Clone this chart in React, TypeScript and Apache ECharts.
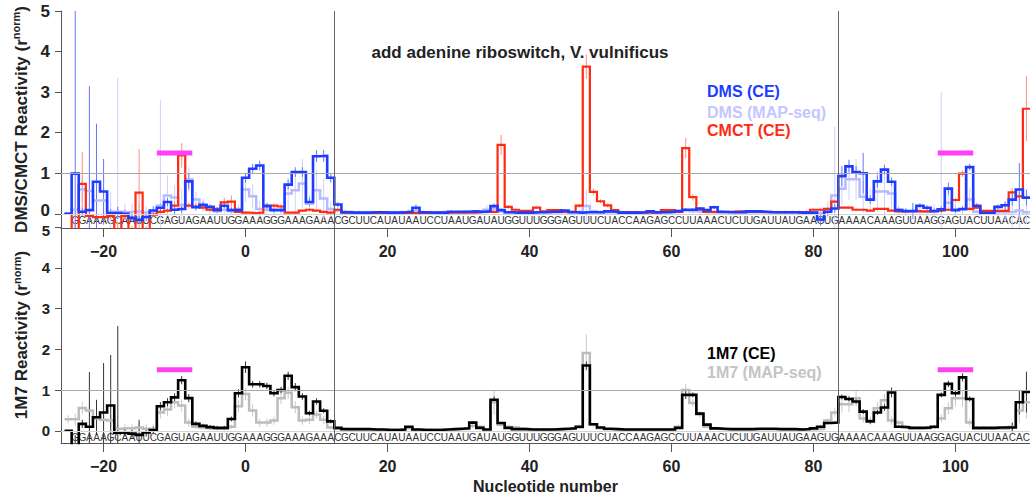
import React, { useEffect, useRef } from 'react';
import * as echarts from 'echarts';

// positions run from START to 110 (one value per nucleotide)
const START = -25;

// ---------------- DMS (CE) ----------------
const dmsCE = [
  0, 0.99, 0.05, 0.09, 0.79, 0.55, 0.02, 0.02, 0.0, -0.1,
  -0.15, -0.08, 0.08, 0.15, 0.29, 0.1, 0.12, 0.8, 0.16, 0.22,
  0.17, 0.09, 0.2, 0.09, 0.09, 0.89, 1.11, 1.19, 0.19, 0.09,
  0.09, 0.72, 1.03, 1.03, 0.29, 1.42, 1.43, 0.89, 0.23, 0.04,
  0.03, 0.03, 0.03, 0.04, 0.04, 0.03, 0.03, 0.04, 0.05, 0.15,
  0.04, 0.03, 0.03, 0.03, 0.05, 0.05, 0.05, 0.06, 0.05, 0.06,
  0.19, 0.09, 0.04, 0.03, 0.03, 0.03, 0.04, 0.04, 0.05, 0.05,
  0.08, 0.04, 0.03, 0.04, 0.04, 0.04, 0.06, 0.05, 0.03, 0.03,
  0.03, 0.04, 0.06, 0.04, 0.04, 0.05, 0.07, 0.1, 0.1, 0.13,
  0.09, 0.16, 0.05, 0.04, 0.04, 0.04, 0.06, 0.06, 0.05, 0.04,
  0.04, 0.04, 0.04, 0.03, 0.03, 0.03, -0.14, 0.05, 0.13, 0.93,
  1.17, 1.03, 1.0, 0.35, 0.8, 1.09, 0.79, 0.09, 0.07, 0.07,
  0.2, 0.15, 0.07, 0.11, 0.62, 0.09, 0.12, 1.15, 0.2, 0.02,
  0.02, 0.17, 0.21, 0.35, 0.6, 0.4,
];
const dmsCEErr = [
  0, 4.1, 0.1, 3.06, 1.43, 0.8, 0.1, 0.15, 0.1, 0.1,
  0.1, 0.1, 0.1, 0.1, 0.1, 0.1, 0.1, 0.2, 0.08, 0.08,
  0.06, 0.06, 0.06, 0.06, 0.06, 0.12, 0.12, 0.12, 0.08, 0.06,
  0.06, 0.12, 0.12, 0.12, 0.1, 0.15, 0.15, 0.12, 0.06, 0.03,
  0.03, 0.03, 0.03, 0.03, 0.03, 0.03, 0.03, 0.03, 0.03, 0.08,
  0.03, 0.03, 0.03, 0.03, 0.03, 0.03, 0.03, 0.03, 0.03, 0.03,
  0.06, 0.04, 0.03, 0.03, 0.03, 0.03, 0.03, 0.03, 0.03, 0.03,
  0.03, 0.03, 0.03, 0.03, 0.03, 0.03, 0.03, 0.03, 0.03, 0.03,
  0.03, 0.03, 0.03, 0.03, 0.03, 0.03, 0.03, 0.04, 0.04, 0.04,
  0.03, 0.04, 0.03, 0.03, 0.03, 0.03, 0.03, 0.03, 0.03, 0.03,
  0.03, 0.03, 0.03, 0.03, 0.03, 0.03, 0.15, 0.1, 0.1, 0.25,
  0.15, 0.15, 0.5, 0.1, 0.15, 0.12, 0.1, 0.06, 0.06, 0.2,
  0.06, 0.06, 0.06, 0.08, 0.15, 0.06, 0.06, 0.08, 0.06, 0.04,
  0.04, 0.06, 0.1, 0.15, 0.65, 0.2,
];

// ---------------- DMS (MAP-seq) ----------------
const dmsMAP = [
  0.0, 0.1, 0.6, 0.56, 0.33, 0.33, 0.05, 0.05, 0.04, 0.05,
  0.06, 0.03, 0.05, 0.2, 0.45, 0.4, 0.22, 0.85, 0.35, 0.2,
  0.1, 0.06, 0.1, 0.06, 0.12, 0.6, 0.43, 0.12, 0.1, 0.1,
  0.1, 0.5, 0.58, 0.75, 0.25, 0.58, 0.38, 0.12, 0.08, 0.05,
  0.04, 0.04, 0.04, 0.04, 0.04, 0.04, 0.04, 0.04, 0.05, 0.07,
  0.04, 0.04, 0.04, 0.04, 0.04, 0.04, 0.05, 0.05, 0.05, 0.1,
  0.12, 0.06, 0.04, 0.04, 0.04, 0.04, 0.04, 0.04, 0.04, 0.04,
  0.05, 0.04, 0.05, 0.19, 0.06, 0.04, 0.04, 0.04, 0.04, 0.04,
  0.04, 0.04, 0.04, 0.04, 0.04, 0.04, 0.05, 0.08, 0.06, 0.05,
  0.04, 0.05, 0.04, 0.04, 0.04, 0.04, 0.04, 0.04, 0.04, 0.04,
  0.04, 0.04, 0.04, 0.04, 0.04, 0.04, 0.02, 0.1, 0.45, 0.62,
  0.85, 0.85, 0.42, 0.35, 0.55, 0.55, 0.5, 0.1, 0.05, 0.05,
  0.05, 0.05, 0.05, 0.1, 0.27, 0.1, 0.1, 0.35, 0.05, 0.04,
  0.04, 0.04, 0.04, 0.05, 0.08, 0.04,
];
const dmsMAPErr = [
  0, 0.2, 0.3, 0.4, 0.4, 0.3, 0.5, 3.3, 0.2, 0.2,
  0.2, 0.15, 0.15, 2.6, 0.5, 0.3, 0.4, 0.3, 0.2, 0.15,
  0.1, 0.1, 0.1, 0.1, 0.1, 0.3, 0.3, 0.2, 0.1, 0.1,
  0.1, 0.4, 0.5, 0.6, 0.2, 0.5, 0.5, 0.2, 0.1, 0.05,
  0.05, 0.05, 0.05, 0.05, 0.05, 0.05, 0.05, 0.05, 0.05, 0.1,
  0.05, 0.05, 0.05, 0.05, 0.05, 0.05, 0.05, 0.05, 0.05, 0.12,
  0.1, 0.05, 0.05, 0.05, 0.05, 0.05, 0.05, 0.05, 0.05, 0.05,
  0.05, 0.05, 0.05, 0.4, 0.05, 0.05, 0.05, 0.05, 0.05, 0.05,
  0.05, 0.05, 0.05, 0.05, 0.05, 0.05, 0.05, 0.05, 0.05, 0.05,
  0.05, 0.05, 0.05, 0.05, 0.05, 0.05, 0.05, 0.05, 0.05, 0.05,
  0.05, 0.05, 0.05, 0.05, 0.08, 0.05, 0.1, 0.2, 1.7, 0.4,
  0.5, 0.5, 0.4, 0.3, 0.5, 0.6, 0.4, 0.1, 0.1, 0.1,
  0.1, 0.1, 0.2, 2.9, 0.2, 0.15, 0.1, 0.3, 0.05, 0.05,
  0.05, 0.1, 0.25, 0.4, 0.5, 0.3,
];

// ---------------- CMCT (CE) ----------------
const cmctCE = [
  0, -0.5, 0.74, -0.05, -0.08, -0.08, -0.05, -0.5, -0.05, -0.5,
  0.52, -0.5, -0.02, 0.05, 0.08, 0.2, 1.44, 0.2, 0.18, 0.15,
  0.1, 0.12, 0.28, 0.3, 0.05, 0.03, 0.02, 0.03, 0.2, 0.2,
  0.18, 0.03, 0.03, 0.08, 0.1, 0.08, 0.05, 0.03, 0.1, 0.03,
  0.02, 0.02, 0.02, 0.02, 0.02, 0.02, 0.02, 0.02, 0.02, 0.02,
  0.02, 0.02, 0.03, 0.03, 0.03, 0.03, 0.03, 0.03, 0.04, 0.05,
  0.05, 1.7, 0.17, 0.1, 0.07, 0.07, 0.15, 0.06, 0.09, 0.09,
  0.05, 0.05, 0.2, 3.63, 0.54, 0.31, 0.21, 0.09, 0.04, 0.04,
  0.03, 0.03, 0.03, 0.03, 0.09, 0.09, 0.05, 1.62, 0.41, 0.1,
  0.05, 0.04, 0.04, 0.05, 0.06, 0.06, 0.05, 0.05, 0.04, 0.04,
  0.04, 0.04, 0.04, 0.04, 0.05, 0.1, 0.1, 0.12, 0.3, 0.15,
  0.15, 0.1, 0.1, 0.08, 0.12, 0.12, 0.08, 0.06, 0.06, 0.07,
  0.06, 0.06, 0.07, 0.08, 0.1, 0.34, 0.99, 0.12, 0.15, 0.07,
  0.07, 0.07, 0.07, 0.53, 0.43, 2.59,
];
const cmctErr = [
  0, 0.3, 0.78, 0.1, 0.1, 0.2, 0.1, 0.3, 0.1, 0.2,
  1.08, 0.2, 0.05, 0.05, 0.05, 0.1, 0.3, 0.08, 0.05, 0.05,
  0.05, 0.05, 0.12, 0.15, 0.03, 0.03, 0.03, 0.03, 0.05, 0.05,
  0.05, 0.03, 0.03, 0.03, 0.05, 0.03, 0.03, 0.03, 0.03, 0.02,
  0.02, 0.02, 0.02, 0.02, 0.02, 0.02, 0.02, 0.02, 0.02, 0.02,
  0.02, 0.02, 0.02, 0.02, 0.02, 0.02, 0.02, 0.02, 0.02, 0.02,
  0.03, 0.25, 0.05, 0.03, 0.02, 0.02, 0.03, 0.02, 0.02, 0.02,
  0.03, 0.03, 0.05, 0.3, 0.08, 0.05, 0.05, 0.03, 0.02, 0.02,
  0.02, 0.02, 0.02, 0.02, 0.02, 0.02, 0.02, 0.25, 0.08, 0.03,
  0.02, 0.02, 0.02, 0.02, 0.02, 0.02, 0.02, 0.02, 0.02, 0.02,
  0.02, 0.02, 0.02, 0.02, 0.02, 0.03, 0.03, 0.03, 0.05, 0.03,
  0.03, 0.03, 0.03, 0.03, 0.03, 0.03, 0.03, 0.02, 0.02, 0.02,
  0.02, 0.02, 0.02, 0.02, 0.03, 0.06, 0.08, 0.03, 0.03, 0.03,
  0.03, 0.03, 0.05, 0.1, 0.1, 0.8,
];

// ---------------- 1M7 (CE) ----------------
const m7CE = [
  0, -0.5, 0.17, 0.1, 0.33, 0.45, 0.62, -0.05, -0.04, -0.07,
  -0.1, -0.04, 0.02, 0.6, 0.7, 0.82, 1.24, 0.8, 0.17, 0.12,
  0.09, 0.07, 0.07, 0.29, 0.92, 1.56, 1.14, 1.14, 1.1, 0.92,
  1.0, 1.35, 1.07, 0.84, 0.43, 0.72, 0.49, 0.23, 0.07, 0.04,
  0.04, 0.04, 0.04, 0.03, 0.03, 0.02, 0.02, 0.03, 0.1, 0.03,
  0.02, 0.02, 0.02, 0.03, 0.04, 0.05, 0.06, 0.2, 0.07, 0.03,
  0.76, 0.19, 0.07, 0.04, 0.04, 0.03, 0.03, 0.03, 0.03, 0.04,
  0.05, 0.06, 0.1, 1.6, 0.16, 0.08, 0.05, 0.04, 0.03, 0.03,
  0.03, 0.03, 0.03, 0.03, 0.03, 0.03, 0.07, 0.88, 0.88, 0.42,
  0.15, 0.06, 0.05, 0.04, 0.04, 0.04, 0.04, 0.05, 0.05, 0.05,
  0.04, 0.04, 0.04, 0.03, 0.04, 0.06, 0.1, 0.19, 0.2, 0.83,
  0.78, 0.72, 0.47, 0.23, 0.45, 0.57, 0.94, 0.1, 0.09, 0.07,
  0.07, 0.08, 0.1, 0.88, 1.15, 0.92, 1.31, 0.78, 0.07, 0.07,
  0.07, 0.08, 0.08, 0.08, 0.7, 0.95,
];
const m7CEErr = [
  0, 0.4, 0.1, 1.34, 0.43, 1.21, 1.24, 2.62, 0.1, 0.1,
  0.37, 0.1, 0.08, 0.1, 0.1, 0.1, 0.1, 0.1, 0.06, 0.05,
  0.05, 0.05, 0.05, 0.06, 0.1, 0.14, 0.08, 0.08, 0.08, 0.08,
  0.08, 0.1, 0.1, 0.08, 0.06, 0.08, 0.06, 0.05, 0.03, 0.02,
  0.02, 0.02, 0.02, 0.02, 0.02, 0.02, 0.02, 0.02, 0.02, 0.02,
  0.02, 0.02, 0.02, 0.02, 0.02, 0.02, 0.02, 0.03, 0.02, 0.02,
  0.08, 0.03, 0.02, 0.02, 0.02, 0.02, 0.02, 0.02, 0.02, 0.02,
  0.02, 0.02, 0.03, 0.1, 0.03, 0.02, 0.02, 0.02, 0.02, 0.02,
  0.02, 0.02, 0.02, 0.02, 0.02, 0.02, 0.02, 0.1, 0.06, 0.04,
  0.02, 0.02, 0.02, 0.02, 0.02, 0.02, 0.02, 0.02, 0.02, 0.02,
  0.02, 0.02, 0.02, 0.02, 0.02, 0.02, 0.03, 0.03, 0.03, 0.06,
  0.06, 0.06, 0.06, 0.06, 0.06, 0.08, 0.12, 0.03, 0.03, 0.03,
  0.03, 0.03, 0.03, 0.06, 0.08, 0.08, 0.1, 0.06, 0.03, 0.03,
  0.03, 0.03, 0.03, 0.12, 0.3, 0.5,
];

// ---------------- 1M7 (MAP-seq) ----------------
const m7MAP = [
  0.28, 0.28, 0.56, 0.5, 0.3, 0.27, 0.25, 0.05, 0.06, 0.06,
  0.08, 0.05, 0.05, 0.45, 0.52, 0.7, 0.62, 0.2, 0.1, 0.08,
  0.06, 0.05, 0.05, 0.1, 0.6, 0.9, 0.5, 0.2, 0.2, 0.25,
  0.8, 0.93, 0.58, 0.25, 0.27, 0.4, 0.27, 0.08, 0.05, 0.04,
  0.03, 0.03, 0.03, 0.03, 0.03, 0.03, 0.03, 0.03, 0.06, 0.03,
  0.03, 0.03, 0.03, 0.03, 0.03, 0.04, 0.05, 0.12, 0.1, 0.04,
  0.7, 0.15, 0.1, 0.08, 0.05, 0.04, 0.04, 0.04, 0.04, 0.04,
  0.04, 0.05, 0.08, 1.91, 0.15, 0.06, 0.04, 0.04, 0.03, 0.03,
  0.03, 0.03, 0.03, 0.03, 0.03, 0.03, 0.1, 1.0, 0.68, 0.4,
  0.1, 0.05, 0.04, 0.04, 0.04, 0.04, 0.04, 0.04, 0.04, 0.04,
  0.04, 0.04, 0.04, 0.04, 0.04, 0.04, 0.05, 0.25, 0.45, 0.65,
  0.65, 0.8, 0.3, 0.25, 0.55, 0.75, 0.25, 0.2, 0.08, 0.06,
  0.06, 0.06, 0.08, 0.3, 0.55, 0.8, 0.8, 0.2, 0.05, 0.05,
  0.05, 0.05, 0.05, 0.1, 0.5, 0.7,
];
const m7MAPErr = [
  0.1, 0.15, 0.15, 0.15, 0.15, 0.15, 0.15, 0.1, 0.1, 0.1,
  0.1, 0.1, 0.1, 0.15, 0.15, 0.15, 0.15, 0.1, 0.05, 0.05,
  0.05, 0.05, 0.05, 0.05, 0.15, 0.15, 0.15, 0.1, 0.1, 0.1,
  0.15, 0.15, 0.15, 0.1, 0.1, 0.1, 0.1, 0.05, 0.03, 0.03,
  0.03, 0.03, 0.03, 0.03, 0.03, 0.03, 0.03, 0.03, 0.03, 0.03,
  0.03, 0.03, 0.03, 0.03, 0.03, 0.03, 0.03, 0.05, 0.05, 0.03,
  0.3, 0.05, 0.05, 0.04, 0.03, 0.03, 0.03, 0.03, 0.03, 0.03,
  0.03, 0.03, 0.04, 0.45, 0.05, 0.03, 0.03, 0.03, 0.03, 0.03,
  0.03, 0.03, 0.03, 0.03, 0.03, 0.03, 0.05, 0.15, 0.1, 0.08,
  0.03, 0.03, 0.03, 0.03, 0.03, 0.03, 0.03, 0.03, 0.03, 0.03,
  0.03, 0.03, 0.03, 0.03, 0.03, 0.03, 0.03, 0.05, 0.1, 0.2,
  0.2, 0.2, 0.1, 0.1, 0.15, 0.15, 0.1, 0.05, 0.03, 0.03,
  0.03, 0.03, 0.05, 0.1, 0.15, 0.2, 0.2, 0.1, 0.03, 0.03,
  0.03, 0.03, 0.03, 0.1, 0.3, 0.4,
];

// ---------------- sequence, annotations ----------------
const SEQ_START = -24;
const seqFlank5 = 'GGAAAGCAAUUCGAGUAGAAUUGGAAAGGGAAAGAAA';
const seqRiboswitch = 'CGCUUCAUAUAAUCCUAAUGAUAUGGUUUGGGAGUUUCUACCAAGAGCCUUAAACUCUUGAUUAUGAAGUG';
const seqFlank3 = 'AAAACAAAGUUAAGGAGUACUUAACAC';
const SEQ_LEVEL = -0.16;

const xTicks = [-20, 0, 20, 40, 60, 80, 100];
const yTicks = [0, 1, 2, 3, 4, 5];
const boundaries = [12.5, 83.5];
const highlightRanges = [[-12.5, -7.5], [97.5, 102.5]];
const HIGHLIGHT_LEVEL = 1.5;
const X_MIN = -26;
const X_MAX = 110.5;
const TOP_Y_MIN = -0.35;
const BOT_Y_MIN = -0.3;
const Y_MAX = 5;

const FONT = 'Liberation Sans, Arial, Helvetica, sans-serif';
const C_BLUE = '#1e3cff';
const C_LBLUE = '#b6baff';
const C_RED = '#ff2a12';
const C_BLACK = '#000000';
const C_GRAY = '#bcbcbc';

function steps(vals: number[]) {
  const out: number[][] = [];
  vals.forEach((v, i) => {
    const p = START + i;
    out.push([p - 0.5, v], [p + 0.5, v]);
  });
  return out;
}

function stepSeries(vals: number[], color: string, width: number, g: number, z: number) {
  return {
    type: 'line',
    xAxisIndex: g,
    yAxisIndex: g,
    data: steps(vals),
    showSymbol: false,
    symbol: 'none',
    clip: true,
    z,
    silent: true,
    lineStyle: { color, width, join: 'miter' },
  };
}

function errSeries(vals: number[], errs: number[], color: string, g: number, yMin: number) {
  const data: number[][] = [];
  vals.forEach((v, i) => {
    if (errs[i] > 0) data.push([START + i, v - errs[i], v + errs[i]]);
  });
  return {
    type: 'custom',
    xAxisIndex: g,
    yAxisIndex: g,
    clip: true,
    silent: true,
    z: 1,
    data,
    renderItem: (params: any, api: any) => {
      const x = api.value(0);
      const lo = Math.max(api.value(1), yMin);
      const hi = Math.min(api.value(2), Y_MAX);
      if (hi <= lo) return null;
      const a = api.coord([x, lo]);
      const b = api.coord([x, hi]);
      return {
        type: 'line',
        shape: { x1: a[0], y1: a[1], x2: b[0], y2: b[1] },
        style: { stroke: color, lineWidth: 1 },
      };
    },
  };
}

const seqLetters = (seqFlank5 + seqRiboswitch + seqFlank3).split('');

function seqSeries(g: number) {
  return {
    type: 'custom',
    xAxisIndex: g,
    yAxisIndex: g,
    silent: true,
    z: 0,
    data: seqLetters.map((c, i) => [SEQ_START + i, SEQ_LEVEL]),
    renderItem: (params: any, api: any) => {
      const p = api.coord([api.value(0), api.value(1)]);
      return {
        type: 'text',
        x: p[0],
        y: p[1],
        style: {
          text: seqLetters[params.dataIndex],
          fill: '#333',
          fontSize: 10,
          fontFamily: FONT,
          align: 'center',
          verticalAlign: 'middle',
        },
      };
    },
  };
}

function highlightSeries(g: number) {
  return {
    type: 'custom',
    xAxisIndex: g,
    yAxisIndex: g,
    silent: true,
    z: 6,
    data: highlightRanges.map((r) => [r[0], r[1], HIGHLIGHT_LEVEL]),
    renderItem: (params: any, api: any) => {
      const a = api.coord([api.value(0), api.value(2)]);
      const b = api.coord([api.value(1), api.value(2)]);
      return {
        type: 'line',
        shape: { x1: a[0], y1: a[1], x2: b[0], y2: b[1] },
        style: { stroke: '#ff40f5', lineWidth: 5 },
      };
    },
  };
}

function refLines(g: number) {
  return {
    type: 'line',
    xAxisIndex: g,
    yAxisIndex: g,
    data: [],
    silent: true,
    z: 0,
    markLine: {
      silent: true,
      symbol: ['none', 'none'],
      label: { show: false },
      animation: false,
      data: [
        { yAxis: 1, lineStyle: { color: '#a8a8a8', width: 1, type: 'solid' } },
        { yAxis: 0, lineStyle: { color: '#d4d4d4', width: 1, type: 'solid' } },
        ...boundaries.map((b) => ({ xAxis: b, lineStyle: { color: '#666', width: 1, type: 'solid' } })),
      ],
    },
  };
}

const fmtX = (v: number) => (v < 0 ? '\u2212' + Math.abs(v) : String(v));

function xAxis(g: number, withName: boolean) {
  return {
    type: 'value',
    gridIndex: g,
    min: X_MIN,
    max: X_MAX,
    splitLine: { show: false },
    axisLine: { show: true, onZero: false, lineStyle: { color: '#555', width: 1 } },
    axisTick: { show: true, customValues: xTicks, length: 9, lineStyle: { color: '#555' } },
    axisLabel: {
      customValues: xTicks,
      formatter: fmtX,
      fontSize: 16,
      fontWeight: 'bold',
      color: '#222',
      fontFamily: FONT,
      margin: 15,
    },
    ...(withName
      ? {
          name: 'Nucleotide number',
          nameLocation: 'middle',
          nameGap: 35,
          nameTextStyle: { fontSize: 16, fontWeight: 'bold', color: '#222', fontFamily: FONT },
        }
      : {}),
  };
}

// shiftValue: the one label nudged away from the neighbouring panel's label
function yAxis(
  g: number,
  min: number,
  name: string,
  labelSize: number,
  nameSize: number,
  nameGap: number,
  shiftValue: number,
  shiftPadding: number[],
) {
  return {
    type: 'value',
    gridIndex: g,
    min,
    max: Y_MAX,
    splitLine: { show: false },
    axisLine: { show: true, onZero: false, lineStyle: { color: '#555', width: 1 } },
    axisTick: { show: true, customValues: yTicks, length: 6, lineStyle: { color: '#555' } },
    axisLabel: {
      customValues: yTicks,
      formatter: (v: number) => (v === shiftValue ? '{s|' + v + '}' : String(v)),
      fontSize: labelSize,
      fontWeight: 'bold',
      color: '#222',
      fontFamily: FONT,
      margin: 11,
      rich: {
        s: { fontSize: labelSize, fontWeight: 'bold', color: '#222', fontFamily: FONT, padding: shiftPadding },
      },
    },
    name,
    nameLocation: 'middle',
    nameGap,
    nameTextStyle: {
      fontSize: nameSize,
      fontWeight: 'bold',
      color: '#222',
      fontFamily: FONT,
      rich: {
        sup: { fontSize: Math.round(nameSize * 0.65), fontWeight: 'bold', color: '#222', fontFamily: FONT, padding: [0, 0, 10, 0] },
      },
    },
  };
}

const legendTop = [
  { text: 'DMS (CE)', color: C_BLUE, y: 91 },
  { text: 'DMS (MAP-seq)', color: '#c3c7ff', y: 112 },
  { text: 'CMCT (CE)', color: C_RED, y: 130 },
];
const legendBottom = [
  { text: '1M7 (CE)', color: C_BLACK, y: 353 },
  { text: '1M7 (MAP-seq)', color: '#c4c4c4', y: 372 },
];

export default function App() {
  const ref = useRef<HTMLDivElement>(null);
  useEffect(() => {
    if (!ref.current) return;
    const chart = echarts.init(ref.current, undefined, { renderer: 'svg' });
    const option: any = {
      animation: false,
      backgroundColor: '#ffffff',
      grid: [
        { left: 61, top: 11, width: 969, height: 217 },
        { left: 61, top: 227, width: 969, height: 216 },
      ],
      xAxis: [xAxis(0, false), xAxis(1, true)],
      yAxis: [
        yAxis(0, TOP_Y_MIN, 'DMS/CMCT Reactivity (r{sup|norm})', 17, 17, 29, 0, [0, 0, 6, 0]),
        yAxis(1, BOT_Y_MIN, '1M7 Reactivity (r{sup|norm})', 15, 17, 29, 5, [6, 0, 0, 0]),
      ],
      graphic: [
        {
          type: 'text',
          x: 520,
          y: 52,
          style: {
            text: 'add adenine riboswitch, V. vulnificus',
            fill: '#222',
            fontSize: 17,
            fontWeight: 'bold',
            fontFamily: FONT,
            align: 'center',
            verticalAlign: 'middle',
          },
        },
        ...[...legendTop, ...legendBottom].map((l) => ({
          type: 'text',
          x: 707,
          y: l.y,
          style: {
            text: l.text,
            fill: l.color,
            fontSize: 16,
            fontWeight: 'bold',
            fontFamily: FONT,
            align: 'left',
            verticalAlign: 'middle',
          },
        })),
      ],
      series: [
        refLines(0),
        refLines(1),
        seqSeries(0),
        seqSeries(1),
        errSeries(dmsMAP, dmsMAPErr, '#cdd0ff', 0, TOP_Y_MIN),
        errSeries(cmctCE, cmctErr, '#ff8f85', 0, TOP_Y_MIN),
        errSeries(dmsCE, dmsCEErr, '#6677ff', 0, TOP_Y_MIN),
        stepSeries(dmsMAP, C_LBLUE, 2.5, 0, 2),
        stepSeries(cmctCE, C_RED, 2.2, 0, 3),
        stepSeries(dmsCE, C_BLUE, 2.6, 0, 4),
        errSeries(m7MAP, m7MAPErr, '#c8c8c8', 1, BOT_Y_MIN),
        errSeries(m7CE, m7CEErr, '#333333', 1, BOT_Y_MIN),
        stepSeries(m7MAP, C_GRAY, 2.5, 1, 2),
        stepSeries(m7CE, C_BLACK, 2.6, 1, 3),
        highlightSeries(0),
        highlightSeries(1),
      ],
    };
    chart.setOption(option);
    return () => chart.dispose();
  }, []);
  return (
    <div
      ref={ref}
      style={{ position: 'fixed', left: 0, top: 0, width: 1030, height: 499, background: '#fff' }}
    />
  );
}
